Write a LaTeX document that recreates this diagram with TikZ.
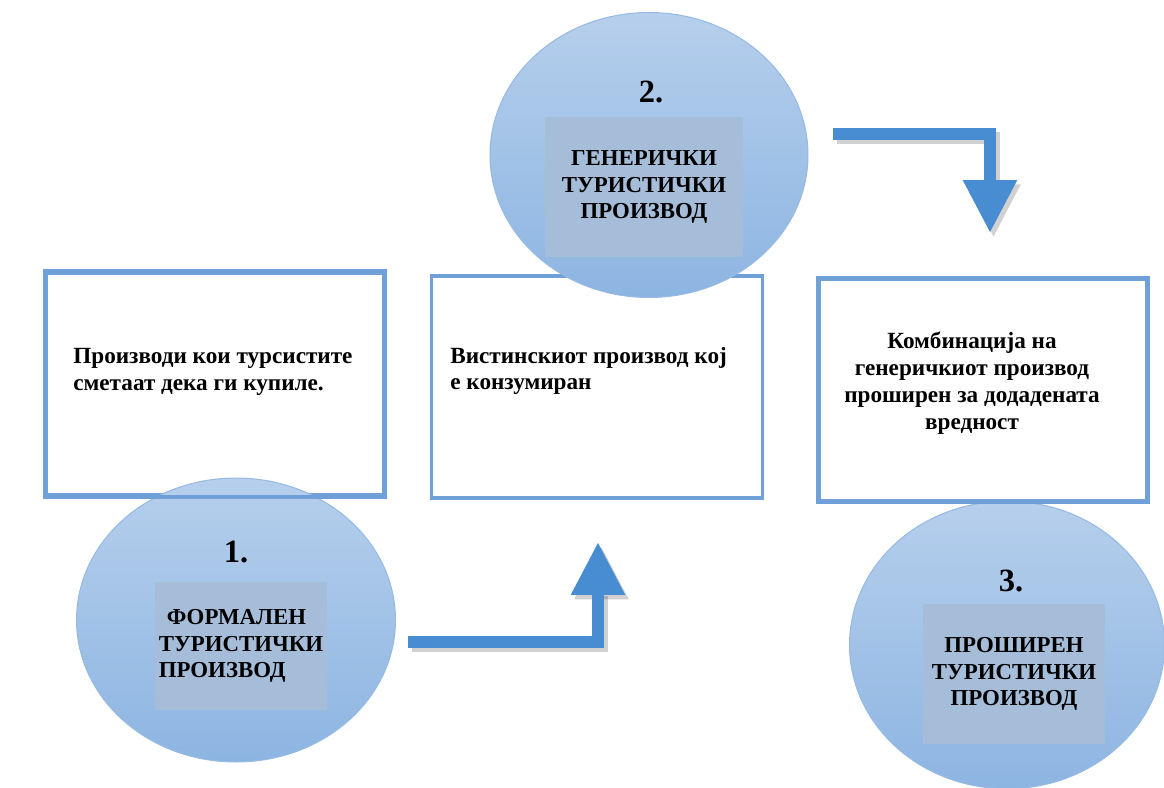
\documentclass[tikz,border=0pt]{standalone}
\usepackage{fontspec}
\setmainfont{Liberation Serif}
\usetikzlibrary{shapes.geometric,arrows.meta}

\definecolor{boxblue}{RGB}{111,160,216}
\definecolor{arrowblue}{RGB}{72,141,210}
\definecolor{circtop}{RGB}{182,207,236}
\definecolor{circbot}{RGB}{141,181,226}
\definecolor{circedge}{RGB}{150,186,226}
\definecolor{labelgray}{RGB}{166,189,218}

\tikzset{
  stagebox/.style={draw=boxblue, line width=2pt, inner sep=0pt},
  stage/.style={ellipse, draw=circedge, line width=0.6pt, top color=circtop, bottom color=circbot, inner sep=0pt},
  stagelabel/.style={fill=labelgray, inner sep=0pt, align=center, font=\bfseries\fontsize{13}{15}\selectfont},
  stagenum/.style={font=\bfseries\fontsize{18.5}{18.5}\selectfont},
  boxtext/.style={inner sep=0pt, font=\bfseries\fontsize{13.2}{15.3}\selectfont},
  flow/.style={draw=arrowblue, line width=0.24cm, line join=miter,
    -{Triangle[width=1.02cm,length=1.06cm]}},
  flowshadow/.style={flow, draw=black, opacity=0.18,
    transform canvas={shift={(2pt,-2.5pt)}}}
}

\begin{document}
\begin{tikzpicture}[x=0.02cm,y=-0.02cm]
      \useasboundingbox (0,0) rectangle (1164,788);

      % boxes
      \node[stagebox, minimum width=6.75cm, minimum height=4.45cm] (A) at (215,384) {};
      \node[stagebox, minimum width=6.63cm, minimum height=4.45cm] (B) at (597,387) {};
      \node[stagebox, minimum width=6.55cm, minimum height=4.42cm] (C) at (983,390) {};

      \node[boxtext, anchor=west, align=left] (D) at (73,372)
        {Производи кои турсистите\\сметаат дека ги купиле.};
      \node[boxtext, anchor=west, align=left] (E) at (450,371)
        {Вистинскиот производ кој\\е конзумиран};
      \node[boxtext, align=center] (F) at (972,383)
        {Комбинација на\\генеричкиот производ\\проширен за додадената\\вредност};

      % circles
      \node[stage, minimum width=6.38cm, minimum height=5.68cm] (G) at (236,620) {};
      \node[stage, minimum width=6.36cm, minimum height=5.7cm] (H) at (649,155) {};
      \node[stage, minimum width=6.3cm, minimum height=5.75cm] (I) at (1007,645) {};

      \draw[draw=boxblue, line width=2pt] (A.north west) rectangle (A.south east);
      \draw[draw=boxblue, line width=2pt] (C.north west) rectangle (C.south east);

      \node[stagenum] (J) at (236,552) {1.};
      \node[stagenum] (K) at (651,92) {2.};
      \node[stagenum] (L) at (1011,581) {3.};

      \node[stagelabel, align=left, minimum width=3.46cm, minimum height=2.56cm] (M) at (241,646)
        {\hspace*{0.35em}ФОРМАЛЕН\\ТУРИСТИЧКИ\\ПРОИЗВОД};
      \node[stagelabel, minimum width=3.96cm, minimum height=2.8cm] (N) at (644,187)
        {ГЕНЕРИЧКИ\\ТУРИСТИЧКИ\\ПРОИЗВОД};
      \node[stagelabel, minimum width=3.64cm, minimum height=2.82cm] (O) at (1014,674)
        {ПРОШИРЕН\\ТУРИСТИЧКИ\\ПРОИЗВОД};

      % arrows
      \coordinate (P) at (408,642);
      \coordinate (Q) at (598,542);
      \coordinate (R) at (833,134);
      \coordinate (S) at (990,233);

      \draw[flowshadow] (P) -| (Q);
      \draw[flowshadow] (R) -| (S);
      \draw[flow] (P) -| (Q);
      \draw[flow] (R) -| (S);
    \end{tikzpicture}
\end{document}
